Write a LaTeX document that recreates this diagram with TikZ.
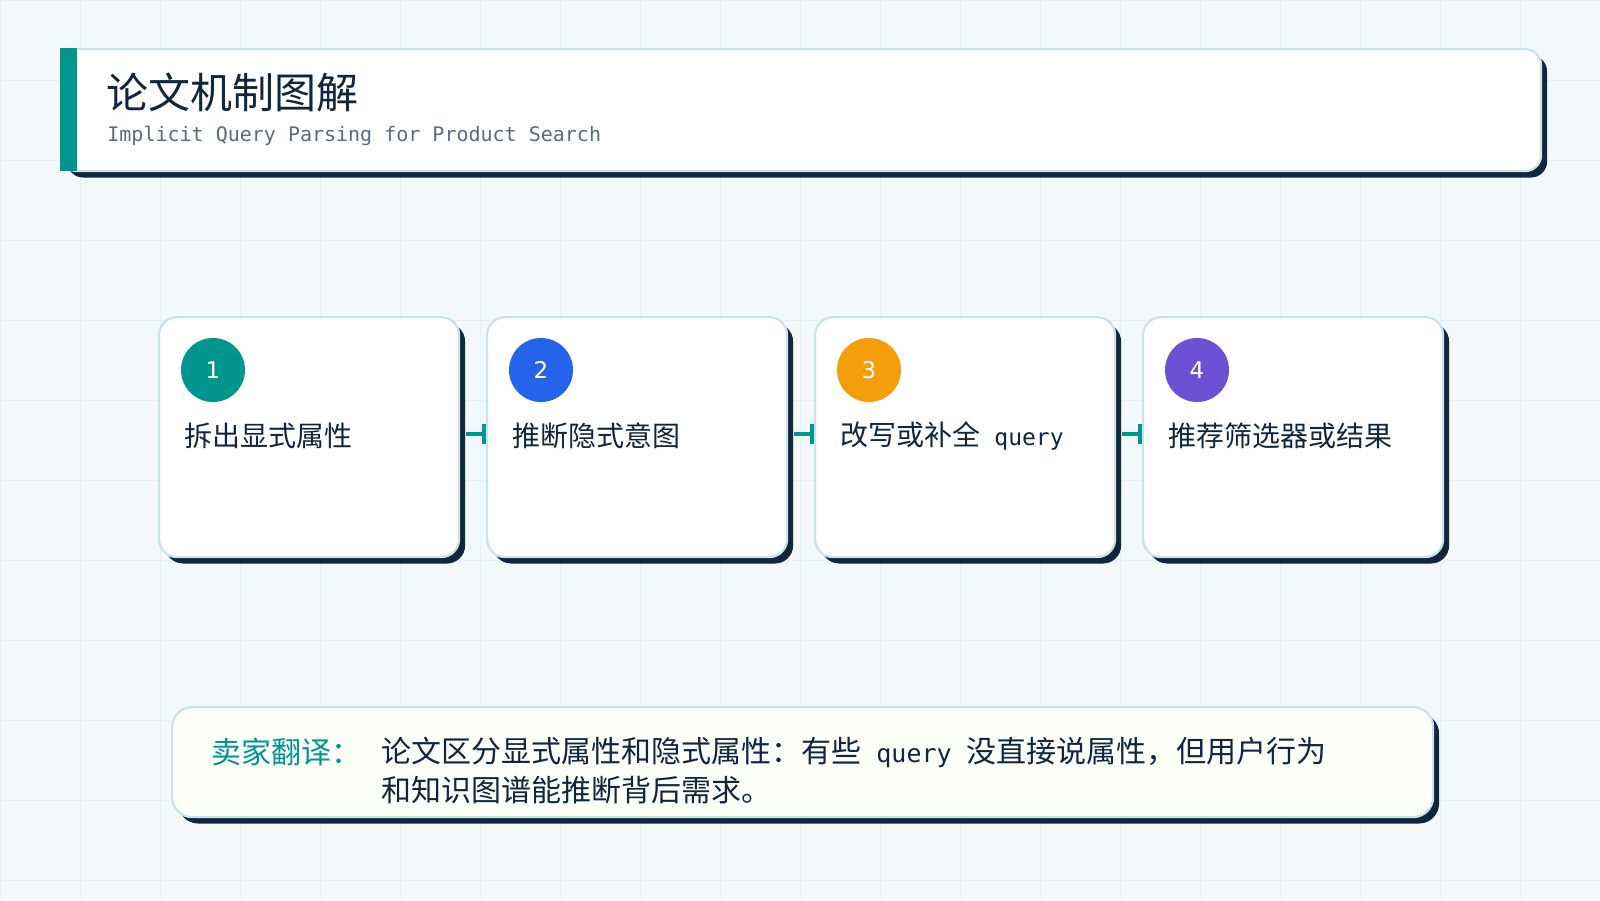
\documentclass[tikz,border=0pt]{standalone}
\usepackage{fontspec}
\setmainfont{Noto Sans CJK SC}
\newfontfamily\monof{DejaVu Sans Mono}
\newfontfamily\numf{DejaVu Sans}
\usetikzlibrary{shadows,arrows.meta}
\definecolor{bg}{HTML}{F3F9FB}
\definecolor{gridc}{HTML}{E2F1F5}
\definecolor{navy}{HTML}{10263F}
\definecolor{tealc}{HTML}{00968F}
\definecolor{bordc}{HTML}{C8E4E9}
\definecolor{subg}{HTML}{5B6B7E}
\definecolor{cblue}{HTML}{2563EB}
\definecolor{corange}{HTML}{F59E0B}
\definecolor{cpurple}{HTML}{6D51D4}
\definecolor{cream}{HTML}{FCFFF8}
\begin{document}
\begin{tikzpicture}[x=0.5pt,y=-0.5pt,
  panel/.style={draw=bordc, line width=1.1pt, inner sep=0, anchor=north west,
    drop shadow={shadow xshift=3pt, shadow yshift=-3.2pt, opacity=1, fill=navy}},
  card/.style={panel, fill=white, minimum width=150pt, minimum height=120pt, rounded corners=9pt},
  badge/.style={circle, inner sep=0, minimum size=32pt, text=white, font=\numf\fontsize{11.5pt}{12pt}\selectfont},
  cardtxt/.style={anchor=west, inner sep=0, text=navy, font=\fontsize{14pt}{16pt}\selectfont},
  bodytxt/.style={anchor=west, inner sep=0, text=navy, font=\fontsize{15pt}{17pt}\selectfont},
  conn/.style={draw=tealc, line width=2pt, shorten <=3pt, -{Bar[width=10pt]}}
]
\fill[bg] (0,0) rectangle (1600,900);
\useasboundingbox (0,0) rectangle (1600,900);
\foreach \i in {0,80,...,1600} \draw[gridc, line width=0.5pt] (\i,0) -- (\i,900);
\foreach \j in {0,80,...,880} \draw[gridc, line width=0.5pt] (0,\j) -- (1600,\j);

% header
\node[panel, fill=white, minimum width=740pt, minimum height=61pt, rounded corners=8pt] (hdr) at (60,48) {};
\node[fill=tealc, inner sep=0, minimum width=8.5pt, minimum height=61.6pt, anchor=north west] (bar) at (59.5,47.6) {};
\node[anchor=west, inner sep=0, text=navy, font=\fontsize{21pt}{24pt}\selectfont] (title) at (106,92) {论文机制图解};
\node[anchor=west, inner sep=0, text=subg, font=\monof\fontsize{10pt}{12pt}\selectfont] (sub) at (107,136) {Implicit Query Parsing for Product Search};

% cards
\node[card] (c1) at (158,316) {};
\node[card] (c2) at (486,316) {};
\node[card] (c3) at (814,316) {};
\node[card] (c4) at (1142,316) {};

\node[badge, fill=tealc] (n1) at ([shift={(55,54)}]c1.north west) {1};
\node[badge, fill=cblue] (n2) at ([shift={(55,54)}]c2.north west) {2};
\node[badge, fill=corange] (n3) at ([shift={(55,54)}]c3.north west) {3};
\node[badge, fill=cpurple] (n4) at ([shift={(55,54)}]c4.north west) {4};

\node[cardtxt] (t1) at ([shift={(26,120)}]c1.north west) {拆出显式属性};
\node[cardtxt] (t2) at ([shift={(26,120)}]c2.north west) {推断隐式意图};
\node[cardtxt] (t3) at ([shift={(26,120)}]c3.north west) {改写或补全\hspace{7pt}{\monof\fontsize{11.5pt}{16pt}\selectfont query}};
\node[cardtxt] (t4) at ([shift={(26,120)}]c4.north west) {推荐筛选器或结果};

\draw[conn] ([yshift=1.5pt]c1.east) -- ([yshift=1.5pt]c2.west);
\draw[conn] ([yshift=1.5pt]c2.east) -- ([yshift=1.5pt]c3.west);
\draw[conn] ([yshift=1.5pt]c3.east) -- ([yshift=1.5pt]c4.west);

% note
\node[panel, fill=cream, minimum width=630.5pt, minimum height=55pt, rounded corners=10pt] (note) at (171,706) {};
\node[bodytxt, text=tealc] (lab) at (211,752) {卖家翻译：};
\node[bodytxt] (b1) at (381,752) {论文区分显式属性和隐式属性：有些\hspace{7.5pt}{\monof\fontsize{12.5pt}{17pt}\selectfont query}\hspace{7.5pt}没直接说属性，但用户行为};
\node[bodytxt] (b2) at (381,790) {和知识图谱能推断背后需求。};
\end{tikzpicture}
\end{document}
